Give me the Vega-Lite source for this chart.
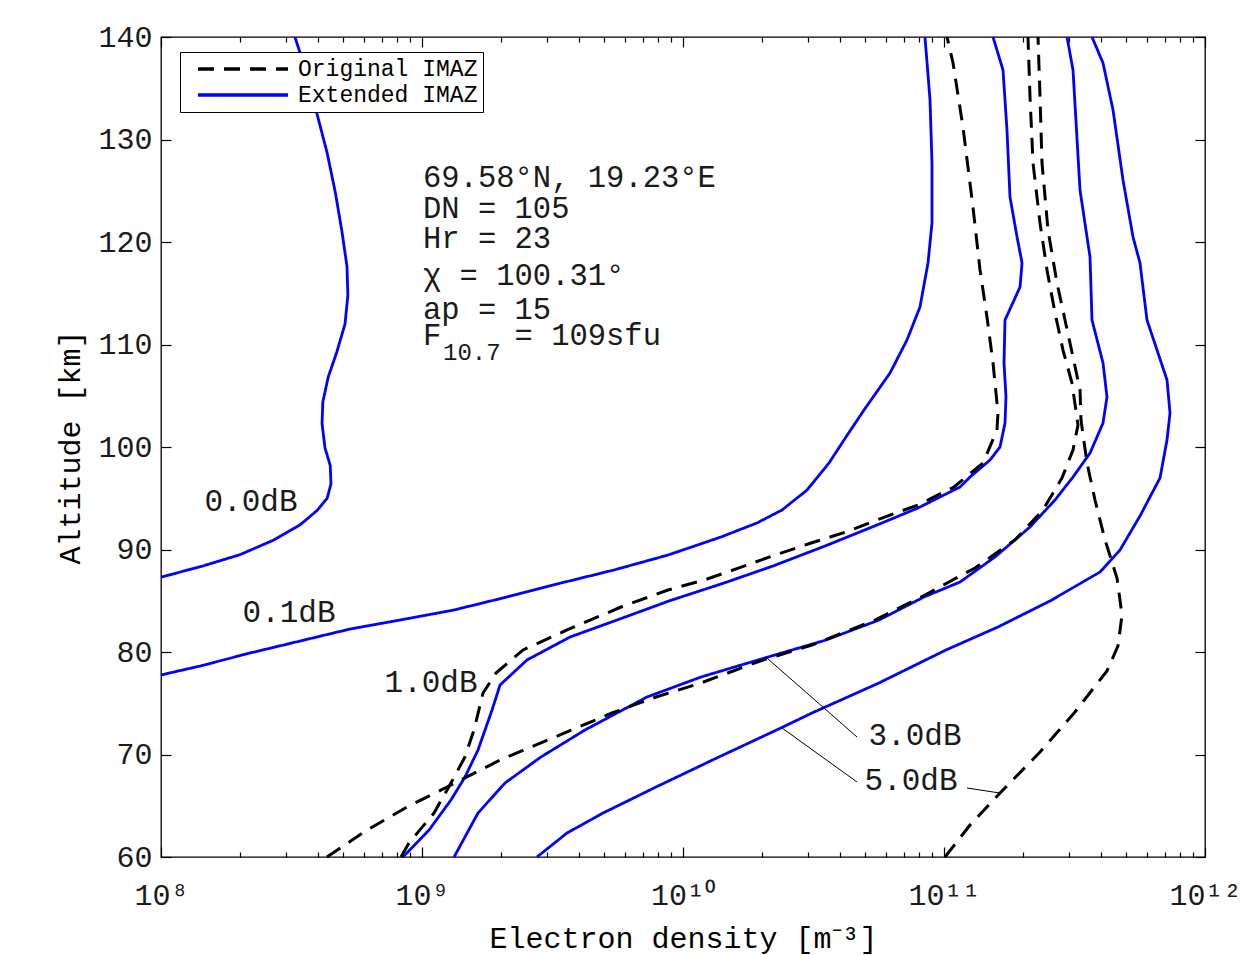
{
  "$schema": "https://vega.github.io/schema/vega-lite/v6.json",
  "width": 1044,
  "height": 820,
  "autosize": {"type": "none"},
  "padding": {"left": 161, "top": 37, "right": 40, "bottom": 98},
  "background": "#ffffff",
  "config": {
    "font": "Liberation Mono",
    "view": {"stroke": "#000000", "strokeWidth": 1.3},
    "axis": {"grid": false, "domain": false, "labelFont": "Liberation Mono", "titleFont": "Liberation Mono", "labelFontSize": 30, "titleFontSize": 30, "titleFontWeight": "normal", "labelColor": "#1a1a1a", "titleColor": "#000000", "tickColor": "#000000", "tickWidth": 1.2},
    "legend": {"orient": "none", "legendX": 19, "legendY": 15, "symbolType": "M-4.5,0H4.5", "symbolSize": 400, "symbolStrokeWidth": 3.5, "labelFont": "Liberation Mono", "labelFontSize": 23, "labelColor": "#000000", "strokeColor": "#000000", "fillColor": "#ffffff", "padding": 5, "rowPadding": 2, "labelOffset": 43, "symbolOffset": 46, "labelLimit": 400},
    "line": {"strokeCap": "butt"}
  },
  "datasets": {
    "profiles": [
      {"model": "Extended IMAZ", "curve": "0.0dB", "ne": 3.26e8, "alt": 140},
      {"model": "Extended IMAZ", "curve": "0.0dB", "ne": 3.62e8, "alt": 136.4},
      {"model": "Extended IMAZ", "curve": "0.0dB", "ne": 3.96e8, "alt": 132.5},
      {"model": "Extended IMAZ", "curve": "0.0dB", "ne": 4.33e8, "alt": 128.7},
      {"model": "Extended IMAZ", "curve": "0.0dB", "ne": 4.65e8, "alt": 124.9},
      {"model": "Extended IMAZ", "curve": "0.0dB", "ne": 4.93e8, "alt": 121.1},
      {"model": "Extended IMAZ", "curve": "0.0dB", "ne": 5.16e8, "alt": 117.6},
      {"model": "Extended IMAZ", "curve": "0.0dB", "ne": 5.20e8, "alt": 114.8},
      {"model": "Extended IMAZ", "curve": "0.0dB", "ne": 5.07e8, "alt": 112.0},
      {"model": "Extended IMAZ", "curve": "0.0dB", "ne": 4.72e8, "alt": 109.3},
      {"model": "Extended IMAZ", "curve": "0.0dB", "ne": 4.37e8, "alt": 106.8},
      {"model": "Extended IMAZ", "curve": "0.0dB", "ne": 4.17e8, "alt": 104.4},
      {"model": "Extended IMAZ", "curve": "0.0dB", "ne": 4.14e8, "alt": 102.3},
      {"model": "Extended IMAZ", "curve": "0.0dB", "ne": 4.25e8, "alt": 99.9},
      {"model": "Extended IMAZ", "curve": "0.0dB", "ne": 4.45e8, "alt": 98.2},
      {"model": "Extended IMAZ", "curve": "0.0dB", "ne": 4.48e8, "alt": 96.4},
      {"model": "Extended IMAZ", "curve": "0.0dB", "ne": 4.33e8, "alt": 95.0},
      {"model": "Extended IMAZ", "curve": "0.0dB", "ne": 3.96e8, "alt": 93.8},
      {"model": "Extended IMAZ", "curve": "0.0dB", "ne": 3.41e8, "alt": 92.4},
      {"model": "Extended IMAZ", "curve": "0.0dB", "ne": 2.69e8, "alt": 90.9},
      {"model": "Extended IMAZ", "curve": "0.0dB", "ne": 2.01e8, "alt": 89.5},
      {"model": "Extended IMAZ", "curve": "0.0dB", "ne": 1.45e8, "alt": 88.4},
      {"model": "Extended IMAZ", "curve": "0.0dB", "ne": 1.00e8, "alt": 87.3},

      {"model": "Extended IMAZ", "curve": "0.1dB", "ne": 1.00e8, "alt": 77.76},
      {"model": "Extended IMAZ", "curve": "0.1dB", "ne": 1.411e8, "alt": 78.63},
      {"model": "Extended IMAZ", "curve": "0.1dB", "ne": 2.193e8, "alt": 79.90},
      {"model": "Extended IMAZ", "curve": "0.1dB", "ne": 3.409e8, "alt": 81.07},
      {"model": "Extended IMAZ", "curve": "0.1dB", "ne": 5.300e8, "alt": 82.24},
      {"model": "Extended IMAZ", "curve": "0.1dB", "ne": 8.236e8, "alt": 83.12},
      {"model": "Extended IMAZ", "curve": "0.1dB", "ne": 1.327e9, "alt": 84.10},
      {"model": "Extended IMAZ", "curve": "0.1dB", "ne": 2.117e9, "alt": 85.37},
      {"model": "Extended IMAZ", "curve": "0.1dB", "ne": 3.409e9, "alt": 86.73},
      {"model": "Extended IMAZ", "curve": "0.1dB", "ne": 5.440e9, "alt": 88.00},
      {"model": "Extended IMAZ", "curve": "0.1dB", "ne": 8.761e9, "alt": 89.46},
      {"model": "Extended IMAZ", "curve": "0.1dB", "ne": 1.398e10, "alt": 91.22},
      {"model": "Extended IMAZ", "curve": "0.1dB", "ne": 1.921e10, "alt": 92.59},
      {"model": "Extended IMAZ", "curve": "0.1dB", "ne": 2.394e10, "alt": 93.85},
      {"model": "Extended IMAZ", "curve": "0.1dB", "ne": 2.987e10, "alt": 95.80},
      {"model": "Extended IMAZ", "curve": "0.1dB", "ne": 3.626e10, "alt": 98.44},
      {"model": "Extended IMAZ", "curve": "0.1dB", "ne": 4.212e10, "alt": 100.98},
      {"model": "Extended IMAZ", "curve": "0.1dB", "ne": 4.938e10, "alt": 103.61},
      {"model": "Extended IMAZ", "curve": "0.1dB", "ne": 6.211e10, "alt": 107.22},
      {"model": "Extended IMAZ", "curve": "0.1dB", "ne": 7.215e10, "alt": 110.44},
      {"model": "Extended IMAZ", "curve": "0.1dB", "ne": 8.091e10, "alt": 113.66},
      {"model": "Extended IMAZ", "curve": "0.1dB", "ne": 8.684e10, "alt": 117.95},
      {"model": "Extended IMAZ", "curve": "0.1dB", "ne": 8.995e10, "alt": 121.85},
      {"model": "Extended IMAZ", "curve": "0.1dB", "ne": 8.995e10, "alt": 127.71},
      {"model": "Extended IMAZ", "curve": "0.1dB", "ne": 8.839e10, "alt": 133.85},
      {"model": "Extended IMAZ", "curve": "0.1dB", "ne": 8.456e10, "alt": 140},

      {"model": "Extended IMAZ", "curve": "1.0dB", "ne": 8.456e8, "alt": 60},
      {"model": "Extended IMAZ", "curve": "1.0dB", "ne": 1.064e9, "alt": 62.63},
      {"model": "Extended IMAZ", "curve": "1.0dB", "ne": 1.291e9, "alt": 65.56},
      {"model": "Extended IMAZ", "curve": "1.0dB", "ne": 1.461e9, "alt": 67.80},
      {"model": "Extended IMAZ", "curve": "1.0dB", "ne": 1.639e9, "alt": 70.44},
      {"model": "Extended IMAZ", "curve": "1.0dB", "ne": 1.855e9, "alt": 74.34},
      {"model": "Extended IMAZ", "curve": "1.0dB", "ne": 1.991e9, "alt": 76.78},
      {"model": "Extended IMAZ", "curve": "1.0dB", "ne": 2.525e9, "alt": 79.22},
      {"model": "Extended IMAZ", "curve": "1.0dB", "ne": 3.690e9, "alt": 81.46},
      {"model": "Extended IMAZ", "curve": "1.0dB", "ne": 5.586e9, "alt": 83.12},
      {"model": "Extended IMAZ", "curve": "1.0dB", "ne": 8.840e9, "alt": 84.98},
      {"model": "Extended IMAZ", "curve": "1.0dB", "ne": 1.436e10, "alt": 86.73},
      {"model": "Extended IMAZ", "curve": "1.0dB", "ne": 2.212e10, "alt": 88.39},
      {"model": "Extended IMAZ", "curve": "1.0dB", "ne": 3.500e10, "alt": 90.34},
      {"model": "Extended IMAZ", "curve": "1.0dB", "ne": 5.787e10, "alt": 92.59},
      {"model": "Extended IMAZ", "curve": "1.0dB", "ne": 7.950e10, "alt": 94.05},
      {"model": "Extended IMAZ", "curve": "1.0dB", "ne": 1.152e11, "alt": 96.10},
      {"model": "Extended IMAZ", "curve": "1.0dB", "ne": 1.258e11, "alt": 97.07},
      {"model": "Extended IMAZ", "curve": "1.0dB", "ne": 1.501e11, "alt": 98.73},
      {"model": "Extended IMAZ", "curve": "1.0dB", "ne": 1.639e11, "alt": 100.0},
      {"model": "Extended IMAZ", "curve": "1.0dB", "ne": 1.713e11, "alt": 102.34},
      {"model": "Extended IMAZ", "curve": "1.0dB", "ne": 1.728e11, "alt": 104.88},
      {"model": "Extended IMAZ", "curve": "1.0dB", "ne": 1.698e11, "alt": 108.20},
      {"model": "Extended IMAZ", "curve": "1.0dB", "ne": 1.713e11, "alt": 112.39},
      {"model": "Extended IMAZ", "curve": "1.0dB", "ne": 1.956e11, "alt": 115.61},
      {"model": "Extended IMAZ", "curve": "1.0dB", "ne": 1.991e11, "alt": 117.95},
      {"model": "Extended IMAZ", "curve": "1.0dB", "ne": 1.905e11, "alt": 120.49},
      {"model": "Extended IMAZ", "curve": "1.0dB", "ne": 1.790e11, "alt": 124.39},
      {"model": "Extended IMAZ", "curve": "1.0dB", "ne": 1.743e11, "alt": 130.93},
      {"model": "Extended IMAZ", "curve": "1.0dB", "ne": 1.683e11, "alt": 136.78},
      {"model": "Extended IMAZ", "curve": "1.0dB", "ne": 1.541e11, "alt": 140},

      {"model": "Extended IMAZ", "curve": "3.0dB", "ne": 1.327e9, "alt": 60},
      {"model": "Extended IMAZ", "curve": "3.0dB", "ne": 1.639e9, "alt": 64.29},
      {"model": "Extended IMAZ", "curve": "3.0dB", "ne": 2.080e9, "alt": 67.22},
      {"model": "Extended IMAZ", "curve": "3.0dB", "ne": 2.857e9, "alt": 69.76},
      {"model": "Extended IMAZ", "curve": "3.0dB", "ne": 4.212e9, "alt": 72.39},
      {"model": "Extended IMAZ", "curve": "3.0dB", "ne": 7.279e9, "alt": 75.61},
      {"model": "Extended IMAZ", "curve": "3.0dB", "ne": 1.172e10, "alt": 77.56},
      {"model": "Extended IMAZ", "curve": "3.0dB", "ne": 2.117e10, "alt": 79.51},
      {"model": "Extended IMAZ", "curve": "3.0dB", "ne": 3.531e10, "alt": 81.17},
      {"model": "Extended IMAZ", "curve": "3.0dB", "ne": 5.636e10, "alt": 83.12},
      {"model": "Extended IMAZ", "curve": "3.0dB", "ne": 8.383e10, "alt": 85.37},
      {"model": "Extended IMAZ", "curve": "3.0dB", "ne": 1.152e11, "alt": 86.83},
      {"model": "Extended IMAZ", "curve": "3.0dB", "ne": 1.568e11, "alt": 89.27},
      {"model": "Extended IMAZ", "curve": "3.0dB", "ne": 2.136e11, "alt": 92.20},
      {"model": "Extended IMAZ", "curve": "3.0dB", "ne": 2.663e11, "alt": 94.83},
      {"model": "Extended IMAZ", "curve": "3.0dB", "ne": 3.121e11, "alt": 97.07},
      {"model": "Extended IMAZ", "curve": "3.0dB", "ne": 3.626e11, "alt": 99.41},
      {"model": "Extended IMAZ", "curve": "3.0dB", "ne": 4.067e11, "alt": 102.34},
      {"model": "Extended IMAZ", "curve": "3.0dB", "ne": 4.212e11, "alt": 104.88},
      {"model": "Extended IMAZ", "curve": "3.0dB", "ne": 4.067e11, "alt": 108.20},
      {"model": "Extended IMAZ", "curve": "3.0dB", "ne": 3.690e11, "alt": 112.39},
      {"model": "Extended IMAZ", "curve": "3.0dB", "ne": 3.626e11, "alt": 118.54},
      {"model": "Extended IMAZ", "curve": "3.0dB", "ne": 3.320e11, "alt": 125.07},
      {"model": "Extended IMAZ", "curve": "3.0dB", "ne": 3.121e11, "alt": 136.78},
      {"model": "Extended IMAZ", "curve": "3.0dB", "ne": 2.960e11, "alt": 140},

      {"model": "Extended IMAZ", "curve": "5.0dB", "ne": 2.758e9, "alt": 60},
      {"model": "Extended IMAZ", "curve": "5.0dB", "ne": 3.594e9, "alt": 62.34},
      {"model": "Extended IMAZ", "curve": "5.0dB", "ne": 4.938e9, "alt": 64.29},
      {"model": "Extended IMAZ", "curve": "5.0dB", "ne": 7.882e9, "alt": 66.83},
      {"model": "Extended IMAZ", "curve": "5.0dB", "ne": 1.373e10, "alt": 69.76},
      {"model": "Extended IMAZ", "curve": "5.0dB", "ne": 2.374e10, "alt": 72.59},
      {"model": "Extended IMAZ", "curve": "5.0dB", "ne": 3.121e10, "alt": 74.05},
      {"model": "Extended IMAZ", "curve": "5.0dB", "ne": 5.636e10, "alt": 76.98},
      {"model": "Extended IMAZ", "curve": "5.0dB", "ne": 1.018e11, "alt": 80.20},
      {"model": "Extended IMAZ", "curve": "5.0dB", "ne": 1.610e11, "alt": 82.44},
      {"model": "Extended IMAZ", "curve": "5.0dB", "ne": 2.548e11, "alt": 84.98},
      {"model": "Extended IMAZ", "curve": "5.0dB", "ne": 3.960e11, "alt": 87.80},
      {"model": "Extended IMAZ", "curve": "5.0dB", "ne": 4.725e11, "alt": 89.95},
      {"model": "Extended IMAZ", "curve": "5.0dB", "ne": 5.636e11, "alt": 93.27},
      {"model": "Extended IMAZ", "curve": "5.0dB", "ne": 6.724e11, "alt": 96.98},
      {"model": "Extended IMAZ", "curve": "5.0dB", "ne": 7.152e11, "alt": 100.68},
      {"model": "Extended IMAZ", "curve": "5.0dB", "ne": 7.344e11, "alt": 103.32},
      {"model": "Extended IMAZ", "curve": "5.0dB", "ne": 7.152e11, "alt": 106.54},
      {"model": "Extended IMAZ", "curve": "5.0dB", "ne": 5.994e11, "alt": 112.39},
      {"model": "Extended IMAZ", "curve": "5.0dB", "ne": 5.636e11, "alt": 117.95},
      {"model": "Extended IMAZ", "curve": "5.0dB", "ne": 5.299e11, "alt": 120.49},
      {"model": "Extended IMAZ", "curve": "5.0dB", "ne": 4.851e11, "alt": 126.05},
      {"model": "Extended IMAZ", "curve": "5.0dB", "ne": 4.442e11, "alt": 132.88},
      {"model": "Extended IMAZ", "curve": "5.0dB", "ne": 4.067e11, "alt": 137.46},
      {"model": "Extended IMAZ", "curve": "5.0dB", "ne": 3.690e11, "alt": 140},

      {"model": "Original IMAZ", "curve": "1.0dB", "ne": 8.310e8, "alt": 60},
      {"model": "Original IMAZ", "curve": "1.0dB", "ne": 8.916e8, "alt": 61.37},
      {"model": "Original IMAZ", "curve": "1.0dB", "ne": 1.112e9, "alt": 64.29},
      {"model": "Original IMAZ", "curve": "1.0dB", "ne": 1.291e9, "alt": 67.22},
      {"model": "Original IMAZ", "curve": "1.0dB", "ne": 1.461e9, "alt": 69.76},
      {"model": "Original IMAZ", "curve": "1.0dB", "ne": 1.582e9, "alt": 72.39},
      {"model": "Original IMAZ", "curve": "1.0dB", "ne": 1.713e9, "alt": 76.00},
      {"model": "Original IMAZ", "curve": "1.0dB", "ne": 1.921e9, "alt": 77.95},
      {"model": "Original IMAZ", "curve": "1.0dB", "ne": 2.438e9, "alt": 80.20},
      {"model": "Original IMAZ", "curve": "1.0dB", "ne": 3.594e9, "alt": 82.15},
      {"model": "Original IMAZ", "curve": "1.0dB", "ne": 5.787e9, "alt": 84.39},
      {"model": "Original IMAZ", "curve": "1.0dB", "ne": 8.761e9, "alt": 86.05},
      {"model": "Original IMAZ", "curve": "1.0dB", "ne": 1.204e10, "alt": 87.02},
      {"model": "Original IMAZ", "curve": "1.0dB", "ne": 1.639e10, "alt": 88.20},
      {"model": "Original IMAZ", "curve": "1.0dB", "ne": 2.252e10, "alt": 89.46},
      {"model": "Original IMAZ", "curve": "1.0dB", "ne": 3.094e10, "alt": 90.63},
      {"model": "Original IMAZ", "curve": "1.0dB", "ne": 4.212e10, "alt": 91.71},
      {"model": "Original IMAZ", "curve": "1.0dB", "ne": 5.787e10, "alt": 93.07},
      {"model": "Original IMAZ", "curve": "1.0dB", "ne": 7.950e10, "alt": 94.34},
      {"model": "Original IMAZ", "curve": "1.0dB", "ne": 1.092e11, "alt": 96.10},
      {"model": "Original IMAZ", "curve": "1.0dB", "ne": 1.411e11, "alt": 98.44},
      {"model": "Original IMAZ", "curve": "1.0dB", "ne": 1.596e11, "alt": 101.66},
      {"model": "Original IMAZ", "curve": "1.0dB", "ne": 1.610e11, "alt": 103.32},
      {"model": "Original IMAZ", "curve": "1.0dB", "ne": 1.541e11, "alt": 108.20},
      {"model": "Original IMAZ", "curve": "1.0dB", "ne": 1.461e11, "alt": 112.68},
      {"model": "Original IMAZ", "curve": "1.0dB", "ne": 1.374e11, "alt": 117.27},
      {"model": "Original IMAZ", "curve": "1.0dB", "ne": 1.291e11, "alt": 123.41},
      {"model": "Original IMAZ", "curve": "1.0dB", "ne": 1.182e11, "alt": 131.22},
      {"model": "Original IMAZ", "curve": "1.0dB", "ne": 1.083e11, "alt": 137.46},
      {"model": "Original IMAZ", "curve": "1.0dB", "ne": 1.027e11, "alt": 140},

      {"model": "Original IMAZ", "curve": "3.0dB", "ne": 4.325e8, "alt": 60},
      {"model": "Original IMAZ", "curve": "3.0dB", "ne": 6.157e8, "alt": 62.63},
      {"model": "Original IMAZ", "curve": "3.0dB", "ne": 8.759e8, "alt": 64.88},
      {"model": "Original IMAZ", "curve": "3.0dB", "ne": 1.247e9, "alt": 66.83},
      {"model": "Original IMAZ", "curve": "3.0dB", "ne": 1.991e9, "alt": 69.46},
      {"model": "Original IMAZ", "curve": "3.0dB", "ne": 3.594e9, "alt": 72.20},
      {"model": "Original IMAZ", "curve": "3.0dB", "ne": 5.346e9, "alt": 74.05},
      {"model": "Original IMAZ", "curve": "3.0dB", "ne": 7.882e9, "alt": 75.61},
      {"model": "Original IMAZ", "curve": "3.0dB", "ne": 1.172e10, "alt": 76.98},
      {"model": "Original IMAZ", "curve": "3.0dB", "ne": 2.025e10, "alt": 79.22},
      {"model": "Original IMAZ", "curve": "3.0dB", "ne": 3.121e10, "alt": 80.68},
      {"model": "Original IMAZ", "curve": "3.0dB", "ne": 5.440e10, "alt": 83.12},
      {"model": "Original IMAZ", "curve": "3.0dB", "ne": 8.456e10, "alt": 85.56},
      {"model": "Original IMAZ", "curve": "3.0dB", "ne": 1.315e11, "alt": 88.20},
      {"model": "Original IMAZ", "curve": "3.0dB", "ne": 1.871e11, "alt": 90.93},
      {"model": "Original IMAZ", "curve": "3.0dB", "ne": 2.394e11, "alt": 93.85},
      {"model": "Original IMAZ", "curve": "3.0dB", "ne": 2.832e11, "alt": 96.98},
      {"model": "Original IMAZ", "curve": "3.0dB", "ne": 3.121e11, "alt": 99.71},
      {"model": "Original IMAZ", "curve": "3.0dB", "ne": 3.261e11, "alt": 102.15},
      {"model": "Original IMAZ", "curve": "3.0dB", "ne": 3.093e11, "alt": 106.24},
      {"model": "Original IMAZ", "curve": "3.0dB", "ne": 2.857e11, "alt": 109.46},
      {"model": "Original IMAZ", "curve": "3.0dB", "ne": 2.663e11, "alt": 113.07},
      {"model": "Original IMAZ", "curve": "3.0dB", "ne": 2.481e11, "alt": 117.27},
      {"model": "Original IMAZ", "curve": "3.0dB", "ne": 2.333e11, "alt": 121.85},
      {"model": "Original IMAZ", "curve": "3.0dB", "ne": 2.193e11, "alt": 127.71},
      {"model": "Original IMAZ", "curve": "3.0dB", "ne": 2.136e11, "alt": 134.15},
      {"model": "Original IMAZ", "curve": "3.0dB", "ne": 2.098e11, "alt": 140},

      {"model": "Original IMAZ", "curve": "5.0dB", "ne": 1.009e11, "alt": 60},
      {"model": "Original IMAZ", "curve": "5.0dB", "ne": 1.258e11, "alt": 63.12},
      {"model": "Original IMAZ", "curve": "5.0dB", "ne": 1.639e11, "alt": 66.24},
      {"model": "Original IMAZ", "curve": "5.0dB", "ne": 2.333e11, "alt": 70.24},
      {"model": "Original IMAZ", "curve": "5.0dB", "ne": 3.177e11, "alt": 74.15},
      {"model": "Original IMAZ", "curve": "5.0dB", "ne": 4.212e11, "alt": 78.15},
      {"model": "Original IMAZ", "curve": "5.0dB", "ne": 4.642e11, "alt": 80.59},
      {"model": "Original IMAZ", "curve": "5.0dB", "ne": 4.808e11, "alt": 83.61},
      {"model": "Original IMAZ", "curve": "5.0dB", "ne": 4.600e11, "alt": 87.22},
      {"model": "Original IMAZ", "curve": "5.0dB", "ne": 4.140e11, "alt": 90.93},
      {"model": "Original IMAZ", "curve": "5.0dB", "ne": 3.789e11, "alt": 94.83},
      {"model": "Original IMAZ", "curve": "5.0dB", "ne": 3.531e11, "alt": 98.44},
      {"model": "Original IMAZ", "curve": "5.0dB", "ne": 3.349e11, "alt": 102.63},
      {"model": "Original IMAZ", "curve": "5.0dB", "ne": 3.320e11, "alt": 105.56},
      {"model": "Original IMAZ", "curve": "5.0dB", "ne": 3.121e11, "alt": 108.78},
      {"model": "Original IMAZ", "curve": "5.0dB", "ne": 2.908e11, "alt": 112.39},
      {"model": "Original IMAZ", "curve": "5.0dB", "ne": 2.710e11, "alt": 116.00},
      {"model": "Original IMAZ", "curve": "5.0dB", "ne": 2.503e11, "alt": 121.17},
      {"model": "Original IMAZ", "curve": "5.0dB", "ne": 2.374e11, "alt": 127.71},
      {"model": "Original IMAZ", "curve": "5.0dB", "ne": 2.333e11, "alt": 134.15},
      {"model": "Original IMAZ", "curve": "5.0dB", "ne": 2.292e11, "alt": 140}
    ],
    "curveLabels": [
      {"label": "0.0dB", "ne": 2.212e8, "alt": 94.63},
      {"label": "0.1dB", "ne": 3.094e8, "alt": 83.80},
      {"label": "1.0dB", "ne": 1.083e9, "alt": 76.98},
      {"label": "3.0dB", "ne": 7.744e10, "alt": 71.80},
      {"label": "5.0dB", "ne": 7.475e10, "alt": 67.41}
    ],
    "params": [
      {"label": "69.58°N, 19.23°E", "ne": 1.009e9, "alt": 126.24},
      {"label": "DN = 105", "ne": 1.009e9, "alt": 123.22},
      {"label": "Hr = 23", "ne": 1.009e9, "alt": 120.29},
      {"label": "χ = 100.31°", "ne": 1.009e9, "alt": 116.68},
      {"label": "ap = 15", "ne": 1.009e9, "alt": 113.37},
      {"label": "F\u00a0\u00a0\u00a0\u00a0= 109sfu", "ne": 1.009e9, "alt": 110.83}
    ],
    "subscripts": [
      {"label": "10.7", "ne": 1.204e9, "alt": 109.2}
    ],
    "leaders": [
      {"ne": 2.098e10, "alt": 79.41, "ne2": 4.642e10, "alt2": 71.71},
      {"ne": 2.394e10, "alt": 72.59, "ne2": 4.642e10, "alt2": 67.32},
      {"ne": 1.225e11, "alt": 66.73, "ne2": 1.639e11, "alt2": 66.24}
    ]
  },
  "layer": [
    {
      "data": {"name": "profiles"},
      "transform": [{"filter": "datum.model == 'Extended IMAZ'"}],
      "mark": {"type": "line", "strokeWidth": 2.8},
      "encoding": {
        "x": {
          "field": "ne", "type": "quantitative",
          "scale": {"type": "log", "domain": [1e8, 1e12], "nice": false},
          "axis": {
            "orient": "bottom",
            "title": "Electron density [m⁻³]",
            "values": [1e8, 2e8, 3e8, 4e8, 5e8, 6e8, 7e8, 8e8, 9e8, 1e9, 2e9, 3e9, 4e9, 5e9, 6e9, 7e9, 8e9, 9e9, 1e10, 2e10, 3e10, 4e10, 5e10, 6e10, 7e10, 8e10, 9e10, 1e11, 2e11, 3e11, 4e11, 5e11, 6e11, 7e11, 8e11, 9e11, 1e12],
            "labelExpr": "datum.value == 1e8 ? '10⁸' : datum.value == 1e9 ? '10⁹' : datum.value == 1e10 ? '10¹⁰' : datum.value == 1e11 ? '10¹¹' : datum.value == 1e12 ? '10¹²' : ''",
            "labelOverlap": false,
            "labelFlush": false,
            "labelPadding": 33,
            "tickSize": {"condition": {"test": "abs(log(datum.value)/LN10 - round(log(datum.value)/LN10)) < 0.001", "value": -10}, "value": -5},
            "titlePadding": 8
          }
        },
        "y": {
          "field": "alt", "type": "quantitative",
          "scale": {"domain": [60, 140], "nice": false, "zero": false},
          "axis": {
            "orient": "left",
            "title": "Altitude [km]",
            "values": [60, 70, 80, 90, 100, 110, 120, 130, 140],
            "tickSize": -10,
            "labelPadding": 19,
            "labelFlush": false,
            "titlePadding": 12
          }
        },
        "order": {"field": "alt", "type": "quantitative"},
        "detail": {"field": "curve", "type": "nominal"},
        "color": {"field": "model", "type": "nominal", "scale": {"domain": ["Original IMAZ", "Extended IMAZ"], "range": ["#000000", "#0000ff"]}, "legend": {"title": null}},
        "strokeDash": {"field": "model", "type": "nominal", "scale": {"domain": ["Original IMAZ", "Extended IMAZ"], "range": [[16, 10], [1, 0]]}, "legend": {"title": null}}
      }
    },
    {
      "data": {"name": "profiles"},
      "transform": [{"filter": "datum.model == 'Original IMAZ'"}],
      "mark": {"type": "line", "strokeWidth": 3},
      "encoding": {
        "x": {
          "field": "ne", "type": "quantitative",
          "scale": {"type": "log", "domain": [1e8, 1e12], "nice": false},
          "axis": {
            "orient": "top",
            "title": null,
            "labels": false,
            "values": [1e8, 2e8, 3e8, 4e8, 5e8, 6e8, 7e8, 8e8, 9e8, 1e9, 2e9, 3e9, 4e9, 5e9, 6e9, 7e9, 8e9, 9e9, 1e10, 2e10, 3e10, 4e10, 5e10, 6e10, 7e10, 8e10, 9e10, 1e11, 2e11, 3e11, 4e11, 5e11, 6e11, 7e11, 8e11, 9e11, 1e12],
            "tickSize": {"condition": {"test": "abs(log(datum.value)/LN10 - round(log(datum.value)/LN10)) < 0.001", "value": -10}, "value": -5}
          }
        },
        "y": {
          "field": "alt", "type": "quantitative",
          "scale": {"domain": [60, 140], "nice": false, "zero": false},
          "axis": {
            "orient": "right",
            "title": null,
            "labels": false,
            "values": [60, 70, 80, 90, 100, 110, 120, 130, 140],
            "tickSize": -10
          }
        },
        "order": {"field": "alt", "type": "quantitative"},
        "detail": {"field": "curve", "type": "nominal"},
        "color": {"field": "model", "type": "nominal", "scale": {"domain": ["Original IMAZ", "Extended IMAZ"], "range": ["#000000", "#0000ff"]}, "legend": {"title": null}},
        "strokeDash": {"field": "model", "type": "nominal", "scale": {"domain": ["Original IMAZ", "Extended IMAZ"], "range": [[16, 10], [1, 0]]}, "legend": {"title": null}}
      }
    },
    {
      "data": {"name": "leaders"},
      "mark": {"type": "rule", "strokeWidth": 1, "color": "#000000"},
      "encoding": {
        "x": {"field": "ne", "type": "quantitative", "scale": {"type": "log", "domain": [1e8, 1e12], "nice": false}, "axis": null},
        "y": {"field": "alt", "type": "quantitative", "scale": {"domain": [60, 140], "nice": false, "zero": false}, "axis": null},
        "x2": {"field": "ne2"},
        "y2": {"field": "alt2"}
      }
    },
    {
      "data": {"name": "curveLabels"},
      "mark": {"type": "text", "fontSize": 31, "align": "center", "baseline": "middle", "color": "#1a1a1a", "font": "Liberation Mono"},
      "encoding": {
        "x": {"field": "ne", "type": "quantitative", "scale": {"type": "log", "domain": [1e8, 1e12], "nice": false}, "axis": null},
        "y": {"field": "alt", "type": "quantitative", "scale": {"domain": [60, 140], "nice": false, "zero": false}, "axis": null},
        "text": {"field": "label"}
      }
    },
    {
      "data": {"name": "params"},
      "mark": {"type": "text", "fontSize": 30.5, "align": "left", "baseline": "middle", "color": "#1a1a1a", "font": "Liberation Mono"},
      "encoding": {
        "x": {"field": "ne", "type": "quantitative", "scale": {"type": "log", "domain": [1e8, 1e12], "nice": false}, "axis": null},
        "y": {"field": "alt", "type": "quantitative", "scale": {"domain": [60, 140], "nice": false, "zero": false}, "axis": null},
        "text": {"field": "label"}
      }
    },
    {
      "data": {"name": "subscripts"},
      "mark": {"type": "text", "fontSize": 24, "align": "left", "baseline": "middle", "color": "#1a1a1a", "font": "Liberation Mono"},
      "encoding": {
        "x": {"field": "ne", "type": "quantitative", "scale": {"type": "log", "domain": [1e8, 1e12], "nice": false}, "axis": null},
        "y": {"field": "alt", "type": "quantitative", "scale": {"domain": [60, 140], "nice": false, "zero": false}, "axis": null},
        "text": {"field": "label"}
      }
    }
  ],
  "resolve": {"axis": {"x": "independent", "y": "independent"}}
}
